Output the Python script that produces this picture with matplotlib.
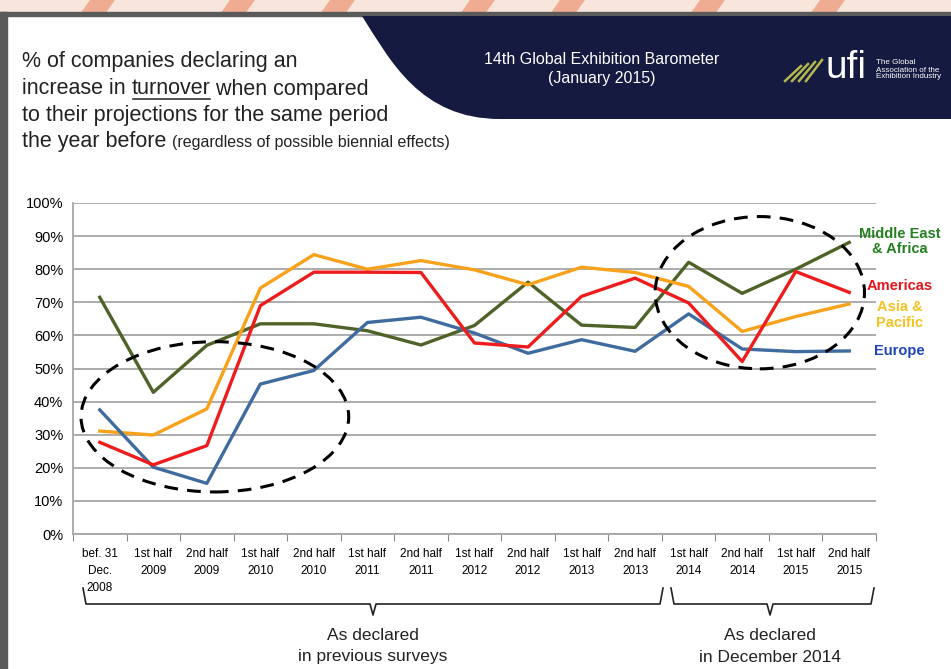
import numpy as np
import matplotlib.pyplot as plt
from matplotlib.patches import Ellipse, Polygon, Rectangle
from matplotlib.path import Path
from matplotlib.patches import PathPatch

# ── data ──────────────────────────────────────────────────────────────────────
categories = ["bef. 31\nDec.\n2008", "1st half\n2009", "2nd half\n2009",
              "1st half\n2010", "2nd half\n2010", "1st half\n2011", "2nd half\n2011",
              "1st half\n2012", "2nd half\n2012", "1st half\n2013", "2nd half\n2013",
              "1st half\n2014", "2nd half\n2014", "1st half\n2015", "2nd half\n2015"]

mea      = [71.5, 42.8, 57.0, 63.5, 63.5, 61.4, 57.1, 63.0, 76.1, 63.1, 62.4, 82.1, 72.7, 80.0, 88.1]
americas = [27.7, 20.9, 26.7, 69.0, 79.1, 79.1, 79.0, 57.7, 56.5, 71.8, 77.3, 69.8, 52.1, 79.3, 73.0]
asia     = [31.1, 29.9, 37.8, 74.3, 84.4, 80.0, 82.6, 79.8, 75.3, 80.6, 79.0, 74.8, 61.2, 65.7, 69.5]
europe   = [37.5, 20.2, 15.3, 45.3, 49.4, 63.9, 65.5, 60.7, 54.6, 58.7, 55.2, 66.5, 55.9, 55.1, 55.3]

yticks = [0, 10, 20, 30, 40, 50, 60, 70, 80, 90, 100]

plt.rcParams['font.family'] = ['Liberation Sans', 'DejaVu Sans']

fig = plt.figure(figsize=(9.51, 6.69), dpi=100)

# ── slide background (pixel coords) ──────────────────────────────────────────
bg = fig.add_axes([0, 0, 1, 1], zorder=0)
bg.set_xlim(0, 951); bg.set_ylim(669, 0); bg.axis("off")
bg.add_patch(Rectangle((0, 0), 951, 14, color="#f8e6dd"))
for x0 in [90, 230, 330, 470, 560, 700, 820]:
    bg.add_patch(Polygon([(x0, 0), (x0 + 25, 0), (x0 + 15, 14), (x0 - 10, 14)],
                         color="#e8744a", alpha=0.5, lw=0))
bg.add_patch(Rectangle((0, 12), 951, 4, color="#5a5a5a"))
bg.add_patch(Rectangle((0, 12), 7, 657, color="#5a5a5a"))
verts = [(951, 16), (951, 119), (500, 119), (420, 119), (390, 60), (362, 16), (951, 16)]
codes = [Path.MOVETO, Path.LINETO, Path.LINETO,
         Path.CURVE4, Path.CURVE4, Path.CURVE4, Path.CLOSEPOLY]
bg.add_patch(PathPatch(Path(verts, codes), color="#151a40", lw=0))

# title
tfs = 15.5
tc = "#222222"
fig.canvas.draw()
r = fig.canvas.get_renderer()


def px_width(t):
    return t.get_window_extent(renderer=r).width


bg.text(22, 62, "% of companies declaring an", fontsize=tfs, va="center", color=tc)
t1 = bg.text(22, 89, "increase in ", fontsize=tfs, va="center", color=tc)
x1 = 22 + px_width(t1)
t2 = bg.text(x1, 89, "turnover", fontsize=tfs, va="center", color=tc)
w2 = px_width(t2)
bg.plot([x1 + 1, x1 + w2 - 1], [99, 99], color=tc, lw=1.1)
bg.text(x1 + w2, 89, " when compared", fontsize=tfs, va="center", color=tc)
bg.text(22, 115, "to their projections for the same period", fontsize=tfs, va="center", color=tc)
t3 = bg.text(22, 141, "the year before ", fontsize=tfs, va="center", color=tc)
bg.text(22 + px_width(t3), 143, "(regardless of possible biennial effects)",
        fontsize=11.5, va="center", color=tc)

bg.text(602, 60, "14th Global Exhibition Barometer", fontsize=11.5, ha="center", va="center", color="white")
bg.text(602, 78, "(January 2015)", fontsize=11.5, ha="center", va="center", color="white")
for k in range(4):
    bg.plot([785 + 7 * k, 801 + 7 * k], [81, 66 - 2 * k], color="#b5b84a", lw=1.8)
bg.text(826, 68, "ufi", fontsize=28, color="white", va="center")
bg.text(876, 70, "The Global\nAssociation of the\nExhibition Industry", fontsize=5.8,
        color="white", va="center", linespacing=1.0)

# brackets below the axis
bk = dict(color="#222", lw=1.2)
for (xa, xb, xm) in [(83, 663, 373), (671, 874, 770)]:
    bg.plot([xa, xa + 3, xm - 3, xm, xm + 3, xb - 3, xb],
            [588, 604, 604, 615, 604, 604, 588], **bk)
bfs = 12.5
bg.text(373, 635, "As declared", fontsize=bfs, ha="center", va="center", color=tc)
bg.text(373, 657, "in previous surveys", fontsize=bfs, ha="center", va="center", color=tc)
bg.text(770, 635, "As declared", fontsize=bfs, ha="center", va="center", color=tc)
bg.text(770, 657, "in December 2014", fontsize=bfs, ha="center", va="center", color=tc)

# ── chart ─────────────────────────────────────────────────────────────────────
ax = fig.add_axes([73 / 951, 1 - 534 / 669, 803 / 951, 331 / 669], zorder=1)
ax.patch.set_alpha(0)
x = np.arange(len(categories))

ax.plot(x, mea, color="#4f6228", lw=2.4, zorder=3)
ax.plot(x, asia, color="#f8a21c", lw=2.4, zorder=3)
ax.plot(x, americas, color="#ee1c1c", lw=2.4, zorder=4)
ax.plot(x, europe, color="#3f6b9e", lw=2.4, zorder=3)

ax.set_xlim(-0.5, len(categories) - 0.5)
ax.set_ylim(0, 100)
ax.set_yticks(yticks)
ax.set_yticklabels([f"{v}%" for v in yticks], fontsize=10.5)
ax.yaxis.grid(True, color="#a6a6a6", lw=1.3)
ax.set_axisbelow(True)
ax.tick_params(axis="y", length=0, pad=7)

ax.set_xticks(np.arange(len(categories) + 1) - 0.5)
ax.set_xticklabels([])
ax.set_xticks(x, minor=True)
ax.set_xticklabels(categories, minor=True, fontsize=8.5, linespacing=1.55, va="top")
ax.tick_params(axis="x", which="major", length=5, color="#888", direction="out")
ax.tick_params(axis="x", which="minor", length=0, pad=10)
for s in ["top", "right"]:
    ax.spines[s].set_visible(False)
for s in ["left", "bottom"]:
    ax.spines[s].set_color("#a6a6a6")
    ax.spines[s].set_linewidth(1.3)

# dashed circles
for (cx, cy, w, h) in [(2.15, 35.4, 5.0, 45.4), (12.33, 72.9, 3.91, 46.0)]:
    ax.add_patch(Ellipse((cx, cy), w, h, fill=False, ls=(0, (4.5, 3)), lw=2.2,
                         color="black", clip_on=False, zorder=5))

# series labels
lfs = 10.5
ax.text(14.94, 88.4, "Middle East\n& Africa", color="#23801f", fontsize=lfs, fontweight="bold",
        ha="center", va="center", linespacing=1.15, clip_on=False)
ax.text(14.94, 75.0, "Americas", color="#e8141b", fontsize=lfs, fontweight="bold",
        ha="center", va="center", clip_on=False)
ax.text(14.94, 66.1, "Asia &\nPacific", color="#f5c21f", fontsize=lfs, fontweight="bold",
        ha="center", va="center", linespacing=1.15, clip_on=False)
ax.text(14.94, 55.2, "Europe", color="#1f45b8", fontsize=lfs, fontweight="bold",
        ha="center", va="center", clip_on=False)

fig.savefig("out.png", dpi=100)
